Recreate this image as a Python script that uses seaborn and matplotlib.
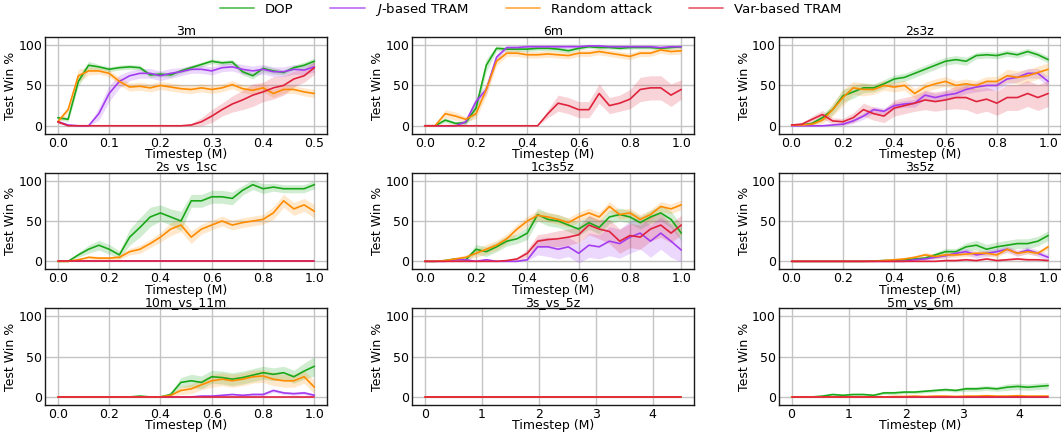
import numpy as np
import pandas as pd
import matplotlib
matplotlib.use("Agg")
import matplotlib.pyplot as plt
import seaborn as sns
from matplotlib.lines import Line2D

# legend / colours
methods = ["DOP", "$J$-based TRAM", "Random attack", "Var-based TRAM"]
colors = ["#1aa81a", "#a43cf0", "#ff8c00", "#e0233c"]

maps = ["3m", "6m", "2s3z", "2s_vs_1sc", "1c3s5z", "3s5z",
        "10m_vs_11m", "3s_vs_5z", "5m_vs_6m"]
max_steps = [0.5, 1.0, 1.0, 1.0, 1.0, 1.0, 1.0, 4.5, 4.5]
n_points = 26
zeros = [0] * n_points

# ---- 3m ----
m3_dop = [10, 8, 55, 75, 73, 70, 72, 73, 72, 63, 64, 63, 68, 72, 76, 80, 78, 79, 67, 62, 71, 68, 66, 72, 75, 80]
m3_jtram = [5, 1, 0, 0, 15, 40, 55, 62, 65, 65, 62, 65, 67, 70, 70, 68, 72, 73, 70, 68, 70, 67, 67, 70, 69, 73]
m3_rand = [5, 20, 62, 68, 68, 65, 55, 48, 49, 47, 50, 48, 46, 45, 47, 45, 47, 51, 46, 44, 47, 40, 45, 45, 42, 40]
m3_var = [5, 0, 0, 0, 0, 0, 0, 0, 0, 0, 0, 0, 0, 1, 5, 12, 20, 27, 32, 38, 42, 47, 50, 58, 62, 72]
m3_dop_sd = [2, 3, 6, 5, 3, 3, 3, 3, 3, 3, 3, 3, 3, 3, 3, 3, 3, 3, 4, 4, 4, 4, 3, 3, 4, 4]
m3_jtram_sd = [2, 1, 0, 0, 8, 10, 8, 6, 6, 6, 6, 6, 5, 5, 5, 5, 5, 5, 6, 6, 6, 6, 6, 6, 6, 6]
m3_rand_sd = [3, 4, 8, 5, 4, 4, 5, 5, 5, 5, 5, 5, 5, 5, 5, 5, 5, 5, 5, 5, 5, 5, 5, 5, 5, 5]
m3_var_sd = [2, 0, 0, 0, 0, 0, 0, 0, 0, 0, 0, 0, 0, 2, 5, 8, 8, 10, 12, 14, 12, 14, 12, 10, 8, 8]

# ---- 6m ----
m6_dop = [0, 0, 7, 3, 4, 22, 75, 96, 95, 95, 95, 96, 96, 95, 93, 96, 98, 97, 97, 96, 97, 97, 97, 96, 97, 98]
m6_jtram = [0, 0, 0, 0, 5, 30, 45, 85, 97, 97, 98, 98, 98, 98, 98, 98, 99, 99, 98, 98, 98, 98, 98, 97, 98, 98]
m6_rand = [0, 0, 15, 12, 8, 15, 45, 80, 90, 90, 88, 88, 89, 88, 87, 90, 90, 92, 90, 88, 86, 90, 90, 94, 92, 93]
m6_var = [0, 0, 0, 0, 0, 0, 0, 0, 0, 0, 0, 0, 15, 28, 25, 20, 20, 40, 25, 28, 33, 45, 47, 47, 38, 45]
m6_dop_sd = [0, 0, 3, 2, 3, 8, 8, 3, 3, 3, 3, 3, 3, 3, 3, 2, 2, 2, 2, 2, 2, 2, 2, 2, 2, 2]
m6_jtram_sd = [0, 0, 0, 0, 3, 6, 6, 4, 2, 2, 2, 2, 2, 2, 2, 2, 1, 1, 1, 1, 1, 1, 1, 1, 1, 1]
m6_rand_sd = [0, 0, 5, 5, 3, 6, 8, 5, 4, 4, 4, 4, 4, 4, 4, 4, 4, 4, 4, 4, 4, 4, 4, 4, 4, 4]
m6_var_sd = [0, 0, 0, 0, 0, 0, 0, 0, 0, 0, 0, 0, 5, 10, 10, 10, 10, 12, 10, 10, 12, 15, 15, 15, 14, 12]

# ---- 2s3z ----
s2z3_dop = [1, 1, 3, 10, 20, 37, 42, 47, 47, 52, 58, 60, 65, 70, 75, 80, 82, 80, 87, 88, 87, 90, 88, 92, 88, 82]
s2z3_jtram = [0, 0, 0, 0, 1, 2, 6, 12, 20, 18, 25, 27, 28, 38, 35, 38, 40, 45, 48, 50, 50, 58, 60, 65, 65, 55]
s2z3_rand = [1, 1, 2, 7, 20, 35, 47, 45, 45, 50, 48, 50, 40, 48, 52, 55, 50, 52, 50, 55, 55, 62, 60, 62, 66, 70]
s2z3_var = [1, 2, 8, 14, 6, 5, 10, 20, 15, 12, 22, 25, 28, 32, 30, 32, 35, 35, 30, 33, 28, 35, 35, 40, 35, 40]
s2z3_dop_sd = [1, 1, 2, 4, 6, 8, 8, 6, 5, 5, 5, 5, 5, 5, 5, 5, 5, 5, 4, 4, 4, 4, 4, 4, 4, 4]
s2z3_jtram_sd = [0, 0, 0, 0, 1, 2, 3, 4, 4, 4, 4, 4, 5, 5, 5, 5, 5, 5, 6, 6, 6, 6, 6, 6, 6, 6]
s2z3_rand_sd = [1, 1, 2, 4, 8, 10, 8, 8, 6, 6, 6, 6, 6, 6, 6, 6, 6, 6, 6, 6, 6, 8, 8, 8, 8, 8]
s2z3_var_sd = [1, 2, 4, 5, 4, 4, 6, 8, 8, 8, 10, 10, 10, 12, 12, 12, 14, 15, 15, 15, 15, 16, 16, 16, 16, 16]

# ---- 2s_vs_1sc ----
sc_dop = [0, 0, 8, 15, 20, 15, 8, 30, 42, 55, 60, 55, 50, 75, 75, 80, 80, 78, 88, 95, 90, 92, 90, 90, 90, 95]
sc_rand = [0, 0, 2, 5, 4, 4, 5, 12, 15, 22, 30, 40, 45, 30, 40, 45, 50, 45, 48, 50, 52, 60, 75, 65, 70, 62]
sc_dop_sd = [0, 0, 3, 5, 6, 6, 5, 10, 12, 12, 10, 10, 12, 8, 8, 8, 8, 8, 6, 6, 6, 5, 5, 5, 5, 5]
sc_rand_sd = [0, 0, 1, 2, 2, 2, 3, 4, 5, 5, 6, 8, 8, 8, 6, 6, 6, 6, 6, 6, 6, 8, 8, 8, 8, 8]

# ---- 1c3s5z ----
c1_dop = [0, 0, 1, 3, 2, 15, 12, 18, 25, 28, 35, 58, 52, 50, 45, 40, 48, 42, 55, 58, 55, 48, 55, 60, 52, 35]
c1_jtram = [0, 0, 0, 2, 2, 0, 2, 0, 0, 0, 2, 18, 18, 15, 18, 10, 20, 18, 25, 22, 30, 35, 25, 35, 25, 14]
c1_rand = [0, 0, 1, 3, 5, 10, 15, 20, 28, 40, 50, 57, 55, 52, 48, 55, 60, 55, 68, 58, 60, 52, 58, 68, 65, 70]
c1_var = [0, 0, 0, 0, 0, 0, 0, 0, 1, 3, 10, 25, 27, 28, 30, 33, 45, 40, 37, 25, 32, 30, 40, 45, 35, 45]
c1_dop_sd = [0, 0, 1, 2, 2, 6, 6, 6, 6, 6, 8, 8, 8, 8, 8, 8, 8, 8, 8, 8, 8, 8, 8, 10, 10, 10]
c1_jtram_sd = [0, 0, 0, 1, 1, 0, 1, 0, 0, 0, 1, 10, 12, 12, 12, 12, 15, 15, 18, 18, 20, 20, 20, 20, 20, 15]
c1_rand_sd = [0, 0, 1, 2, 3, 5, 6, 6, 6, 6, 6, 6, 6, 6, 6, 6, 6, 6, 6, 6, 6, 6, 6, 6, 6, 6]
c1_var_sd = [0, 0, 0, 0, 0, 0, 0, 0, 1, 2, 5, 8, 8, 10, 10, 10, 12, 12, 15, 15, 15, 15, 15, 15, 12, 12]

# ---- 3s5z ----
s3z5_dop = [0, 0, 0, 0, 0, 0, 0, 0, 0.5, 1, 1, 2, 3, 4, 8, 12, 12, 18, 20, 15, 18, 20, 22, 22, 25, 32]
s3z5_jtram = [0, 0, 0, 0, 0, 0, 0, 0, 0, 0, 0, 0, 2, 3, 5, 7, 10, 12, 8, 10, 12, 15, 10, 14, 10, 5]
s3z5_rand = [0, 0, 0, 0, 0, 0, 0, 0, 0, 1, 2, 3, 5, 8, 6, 8, 8, 9, 10, 10, 8, 15, 10, 12, 10, 18]
s3z5_var = [0, 0, 0, 0, 0, 0, 0, 0, 0, 0, 0, 0, 0, 0, 0, 1, 1, 2, 1, 3, 1, 2, 3, 2, 2, 1]
s3z5_dop_sd = [0, 0, 0, 0, 0, 0, 0, 0, 0.5, 1, 1, 1, 2, 2, 3, 4, 4, 5, 6, 6, 6, 6, 6, 6, 6, 6]
s3z5_jtram_sd = [0, 0, 0, 0, 0, 0, 0, 0, 0, 0, 0, 0, 1, 2, 2, 3, 3, 4, 4, 4, 4, 4, 4, 4, 4, 4]
s3z5_rand_sd = [0, 0, 0, 0, 0, 0, 0, 0, 0, 1, 1, 2, 2, 3, 3, 3, 3, 3, 3, 3, 3, 3, 3, 3, 3, 3]
s3z5_var_sd = [0, 0, 0, 0, 0, 0, 0, 0, 0, 0, 0, 0, 0, 0, 0, 1, 1, 1, 1, 1, 1, 1, 1, 1, 1, 1]

# ---- 10m_vs_11m ----
m10_dop = [0, 0, 0, 0, 0, 0, 0, 0, 1, 0, 0, 3, 18, 20, 18, 25, 24, 22, 24, 27, 30, 28, 30, 25, 32, 38]
m10_jtram = [0, 0, 0, 0, 0, 0, 0, 0, 0, 0, 0, 0, 0, 0, 1, 1, 2, 3, 2, 3, 3, 8, 5, 4, 5, 2]
m10_rand = [0, 0, 0, 0, 0, 0, 0, 0, 0, 0, 0, 2, 8, 10, 15, 20, 22, 20, 22, 25, 26, 22, 20, 20, 25, 12]
m10_dop_sd = [0, 0, 0, 0, 0, 0, 0, 0, 0, 0, 0, 3, 6, 8, 8, 8, 8, 8, 8, 8, 8, 8, 8, 8, 10, 12]
m10_jtram_sd = [0, 0, 0, 0, 0, 0, 0, 0, 0, 0, 0, 0, 0, 0, 1, 1, 1, 1, 1, 2, 2, 2, 2, 2, 2, 2]
m10_rand_sd = [0, 0, 0, 0, 0, 0, 0, 0, 0, 0, 0, 2, 5, 6, 6, 8, 8, 8, 8, 8, 8, 8, 8, 8, 8, 8]

# ---- 5m_vs_6m ----
m5_dop = [0, 0, 0, 1, 3, 2, 3, 3, 2, 5, 5, 6, 6, 7, 8, 9, 8, 10, 10, 11, 10, 12, 13, 12, 13, 14]
m5_rand = [0, 0, 0, 0, 0, 0, 0, 0, 0, 0, 0.5, 0.5, 1, 0.5, 1, 1, 0.5, 1, 1, 1.5, 1, 1, 1.5, 1, 1, 1]
m5_dop_sd = [0, 0, 0, 1, 1, 1, 1, 1, 1, 2, 2, 2, 2, 2, 2, 2, 2, 3, 3, 3, 3, 4, 4, 4, 4, 4]
m5_rand_sd = [0, 0, 0, 0, 0, 0, 0, 0, 0, 0, 0.5, 0.5, 0.5, 0.5, 0.5, 0.5, 0.5, 0.5, 0.5, 0.5, 0.5, 0.5, 0.5, 0.5, 0.5, 0.5]

# per-map (means, bands), method order as in `methods`
panel_means = {
    "3m": [m3_dop, m3_jtram, m3_rand, m3_var],
    "6m": [m6_dop, m6_jtram, m6_rand, m6_var],
    "2s3z": [s2z3_dop, s2z3_jtram, s2z3_rand, s2z3_var],
    "2s_vs_1sc": [sc_dop, zeros, sc_rand, zeros],
    "1c3s5z": [c1_dop, c1_jtram, c1_rand, c1_var],
    "3s5z": [s3z5_dop, s3z5_jtram, s3z5_rand, s3z5_var],
    "10m_vs_11m": [m10_dop, m10_jtram, m10_rand, zeros],
    "3s_vs_5z": [zeros, zeros, zeros, zeros],
    "5m_vs_6m": [m5_dop, zeros, m5_rand, zeros],
}
panel_bands = {
    "3m": [m3_dop_sd, m3_jtram_sd, m3_rand_sd, m3_var_sd],
    "6m": [m6_dop_sd, m6_jtram_sd, m6_rand_sd, m6_var_sd],
    "2s3z": [s2z3_dop_sd, s2z3_jtram_sd, s2z3_rand_sd, s2z3_var_sd],
    "2s_vs_1sc": [sc_dop_sd, zeros, sc_rand_sd, zeros],
    "1c3s5z": [c1_dop_sd, c1_jtram_sd, c1_rand_sd, c1_var_sd],
    "3s5z": [s3z5_dop_sd, s3z5_jtram_sd, s3z5_rand_sd, s3z5_var_sd],
    "10m_vs_11m": [m10_dop_sd, m10_jtram_sd, m10_rand_sd, zeros],
    "3s_vs_5z": [zeros, zeros, zeros, zeros],
    "5m_vs_6m": [m5_dop_sd, zeros, m5_rand_sd, zeros],
}


def build_frame(name, max_step):
    """Long-format frame for one map so seaborn can draw the lines."""
    steps = np.linspace(0, max_step, n_points)
    rows = []
    for method, values, band in zip(methods, panel_means[name], panel_bands[name]):
        rows.append(pd.DataFrame({"step": steps, "win": values,
                                  "band": band, "method": method}))
    return pd.concat(rows, ignore_index=True)


sns.set_style("whitegrid")
plt.rcParams["font.family"] = ["DejaVu Sans"]
plt.rcParams["axes.edgecolor"] = "#1a1a1a"
plt.rcParams["axes.linewidth"] = 1.0
plt.rcParams["grid.color"] = "#c4c4c4"
plt.rcParams["grid.linewidth"] = 1.0
for key in ["text.color", "axes.labelcolor", "xtick.color", "ytick.color"]:
    plt.rcParams[key] = "black"

fig, axes = plt.subplots(3, 3, figsize=(10.61, 4.33), dpi=100)
fig.subplots_adjust(left=0.0424, right=1.0, top=0.9145, bottom=0.0647,
                    wspace=0.30, hspace=0.40)
palette = dict(zip(methods, colors))

for ax, name, max_step in zip(axes.flat, maps, max_steps):
    df = build_frame(name, max_step)
    for method, color in zip(methods, colors):
        sub = df[df["method"] == method]
        ax.fill_between(sub["step"], sub["win"] - sub["band"],
                        sub["win"] + sub["band"], color=color, alpha=0.2,
                        linewidth=0)
    sns.lineplot(data=df, x="step", y="win", hue="method", palette=palette,
                 hue_order=methods, ax=ax, legend=False, linewidth=1.2)
    ax.set_title(name, fontsize=9, pad=1.5)
    ax.set_xlabel("Timestep (M)", fontsize=9, labelpad=-1)
    ax.set_ylabel("Test Win %", fontsize=9, labelpad=1)
    ax.set_ylim(-10, 110)
    ax.set_yticks([0, 50, 100])
    ax.margins(x=0.05)
    ax.tick_params(labelsize=9, length=0, pad=2)
    for spine in ax.spines.values():
        spine.set_visible(True)

handles = [Line2D([0], [0], color=c, lw=1.3, alpha=0.7) for c in colors]
fig.legend(handles, methods, loc="upper center", ncol=4, frameon=False,
           fontsize=9.5, bbox_to_anchor=(0.5, 1.025), columnspacing=2.8,
           handlelength=2.6)

fig.savefig("out.png", dpi=100)
